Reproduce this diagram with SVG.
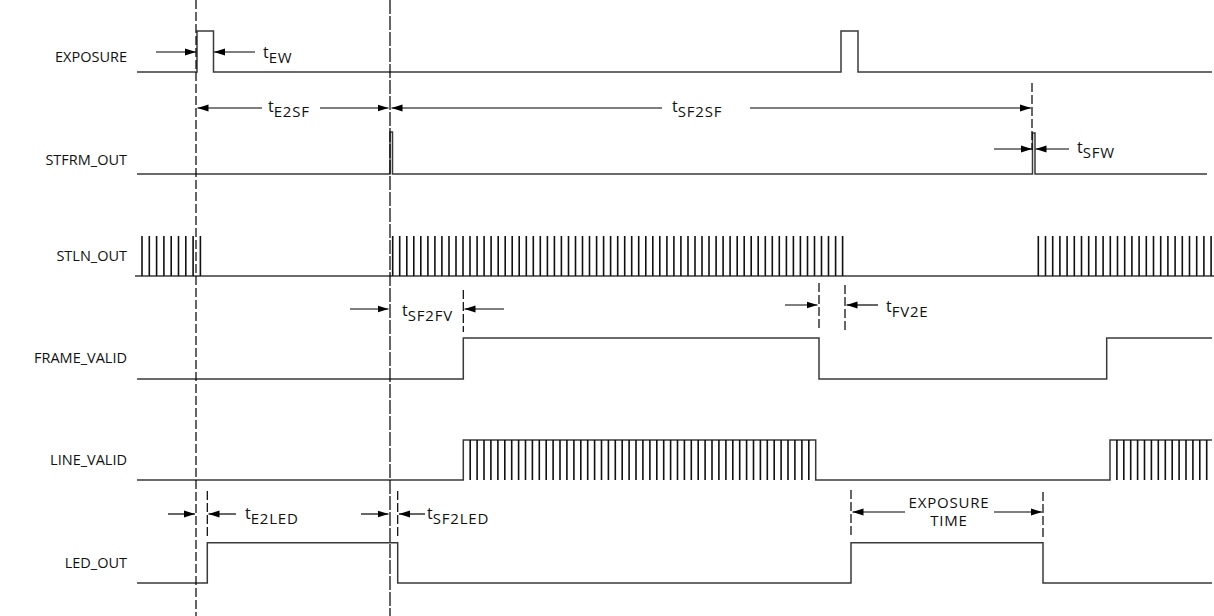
<svg xmlns="http://www.w3.org/2000/svg" width="1214" height="616" viewBox="0 0 1214 616">
<style>
.sig{fill:none;stroke:#3a3a3a;stroke-width:1.5}
.comb{fill:none;stroke:#111;stroke-width:1.6}
.arr{fill:none;stroke:#000;stroke-width:1.2;marker-end:url(#ah)}
.dash{fill:none;stroke:#000;stroke-width:1.2;stroke-dasharray:9,3}
.ldash{fill:none;stroke:#000;stroke-width:1.2;stroke-dasharray:14,2}
.lbl{font-family:"Open Sans","Noto Sans",sans-serif;font-size:14.5px;fill:#111;text-anchor:end}
.t{font-family:"Open Sans","Noto Sans",sans-serif;font-size:16px;fill:#111}
.sub{font-size:15px;letter-spacing:0.8px}
.et{font-family:"Open Sans","Noto Sans",sans-serif;font-size:15px;fill:#111;text-anchor:middle;letter-spacing:0.8px}
</style>
<defs>
<marker id="ah" markerUnits="userSpaceOnUse" markerWidth="12" markerHeight="8" refX="11" refY="4" orient="auto">
<path d="M0,0.5 L11,4 L0,7.5 z" fill="#000"/>
</marker>
</defs>
<g id="labels">
<text class="lbl" x="127" y="62">EXPOSURE</text>
<text class="lbl" x="127" y="165">STFRM_OUT</text>
<text class="lbl" x="127" y="261">STLN_OUT</text>
<text class="lbl" x="127" y="363">FRAME_VALID</text>
<text class="lbl" x="127" y="465">LINE_VALID</text>
<text class="lbl" x="127" y="568">LED_OUT</text>
</g>
<g id="exposure">
<path class="sig" d="M137,72 H197 V31 H213.5 V72 H841 V31 H858 V72 H1212"/>
</g>
<g id="stfrm_out">
<path class="sig" d="M137,174 H390 V132 H392.5 V174 H1032.5 V133 H1035 V174 H1207"/>
</g>
<g id="stln_out">
<path class="sig" d="M135,276 H1214"/>
<path class="comb" d="M142,276 V236 m7.3,40 V236 m7.3,40 V236 m7.3,40 V236 m7.3,40 V236 m7.3,40 V236 m7.3,40 V236 m7.3,40 V236 m7.3,40 V236"/>
<path class="comb" d="M392.7,276V236M399.7,276V236M406.8,276V236M413.8,276V236M420.8,276V236M427.9,276V236M434.9,276V236M441.9,276V236M449.0,276V236M456.0,276V236M463.0,276V236M470.0,276V236M477.1,276V236M484.1,276V236M491.1,276V236M498.2,276V236M505.2,276V236M512.2,276V236M519.2,276V236M526.3,276V236M533.3,276V236M540.3,276V236M547.4,276V236M554.4,276V236M561.4,276V236M568.5,276V236M575.5,276V236M582.5,276V236M589.5,276V236M596.6,276V236M603.6,276V236M610.6,276V236M617.7,276V236M624.7,276V236M631.7,276V236M638.7,276V236M645.8,276V236M652.8,276V236M659.8,276V236M666.9,276V236M673.9,276V236M680.9,276V236M688.0,276V236M695.0,276V236M702.0,276V236M709.0,276V236M716.1,276V236M723.1,276V236M730.1,276V236M737.2,276V236M744.2,276V236M751.2,276V236M758.2,276V236M765.3,276V236M772.3,276V236M779.3,276V236M786.4,276V236M793.4,276V236M800.4,276V236M807.5,276V236M814.5,276V236M821.5,276V236M828.5,276V236M835.6,276V236M842.6,276V236"/>
<path class="comb" d="M1038.3,276 V236 m7.2,40V236 m7.2,40V236 m7.2,40V236 m7.2,40V236 m7.2,40V236 m7.2,40V236 m7.2,40V236 m7.2,40V236 m7.2,40V236 m7.2,40V236 m7.2,40V236 m7.2,40V236 m7.2,40V236 m7.2,40V236 m7.2,40V236 m7.2,40V236 m7.2,40V236 m7.2,40V236 m7.2,40V236 m7.2,40V236 m7.2,40V236 m7.2,40V236 m7.2,40V236 m7.2,40V236"/>
</g>
<g id="frame_valid">
<path class="sig" d="M137,379 H463.3 V338 H819 V379 H1106.7 V338 H1212"/>
</g>
<g id="line_valid">
<path class="sig" d="M137,480 H463.3 V440 H815.7 V480 H1110 V440 H1212"/>
<path class="comb" d="M470.2,440V480M477.1,440V480M484.0,440V480M490.9,440V480M497.9,440V480M504.8,440V480M511.7,440V480M518.6,440V480M525.5,440V480M532.4,440V480M539.3,440V480M546.2,440V480M553.1,440V480M560.0,440V480M566.9,440V480M573.9,440V480M580.8,440V480M587.7,440V480M594.6,440V480M601.5,440V480M608.4,440V480M615.3,440V480M622.2,440V480M629.1,440V480M636.0,440V480M642.9,440V480M649.9,440V480M656.8,440V480M663.7,440V480M670.6,440V480M677.5,440V480M684.4,440V480M691.3,440V480M698.2,440V480M705.1,440V480M712.0,440V480M718.9,440V480M725.9,440V480M732.8,440V480M739.7,440V480M746.6,440V480M753.5,440V480M760.4,440V480M767.3,440V480M774.2,440V480M781.1,440V480M788.0,440V480M794.9,440V480M801.9,440V480M808.8,440V480"/>
<path class="comb" d="M1116.9,440V480M1123.8,440V480M1130.7,440V480M1137.6,440V480M1144.5,440V480M1151.4,440V480M1158.3,440V480M1165.3,440V480M1172.2,440V480M1179.1,440V480M1186.0,440V480M1192.9,440V480M1199.8,440V480M1206.7,440V480"/>
</g>
<g id="led_out">
<path class="sig" d="M137,583 H207.3 V542.7 H397.7 V583 H851 V542.7 H1043 V583 H1212"/>
</g>
<g id="connectors">
<line class="dash" x1="196" y1="0" x2="196" y2="616"/>
<line class="ldash" x1="390" y1="0" x2="390" y2="616"/>
<line class="dash" x1="1032" y1="83" x2="1032" y2="150"/>
<line class="dash" x1="463.3" y1="290" x2="463.3" y2="332"/>
<line class="dash" x1="819" y1="283" x2="819" y2="330"/>
<line class="dash" x1="845" y1="285" x2="845" y2="331"/>
<line class="dash" x1="207.3" y1="491" x2="207.3" y2="537"/>
<line class="dash" x1="397.7" y1="491" x2="397.7" y2="537"/>
<line class="dash" x1="851" y1="490" x2="851" y2="536"/>
<line class="dash" x1="1043" y1="492" x2="1043" y2="537"/>
<line class="arr" x1="156" y1="52" x2="196" y2="52"/>
<line class="arr" x1="255" y1="52" x2="214" y2="52"/>
<line class="arr" x1="262" y1="108" x2="197.5" y2="108"/>
<line class="arr" x1="320" y1="108" x2="388.5" y2="108"/>
<line class="arr" x1="662" y1="108" x2="391.5" y2="108"/>
<line class="arr" x1="750" y1="108" x2="1031" y2="108"/>
<line class="arr" x1="994" y1="149" x2="1032" y2="149"/>
<line class="arr" x1="1069" y1="149" x2="1035.5" y2="149"/>
<line class="arr" x1="350" y1="309" x2="388.5" y2="309"/>
<line class="arr" x1="504" y1="309" x2="464.5" y2="309"/>
<line class="arr" x1="785" y1="305" x2="817.5" y2="305"/>
<line class="arr" x1="878" y1="305" x2="846.5" y2="305"/>
<line class="arr" x1="168" y1="514" x2="195" y2="514"/>
<line class="arr" x1="236" y1="514" x2="208.5" y2="514"/>
<line class="arr" x1="361" y1="514" x2="388.5" y2="514"/>
<line class="arr" x1="425" y1="514" x2="399" y2="514"/>
<line class="arr" x1="905" y1="512" x2="852.5" y2="512"/>
<line class="arr" x1="994" y1="512" x2="1042" y2="512"/>
</g>
<g id="timing-labels">
<text class="t" x="263" y="58">t<tspan class="sub" dy="5">EW</tspan></text>
<text class="t" x="268" y="112">t<tspan class="sub" dy="5">E2SF</tspan></text>
<text class="t" x="672" y="112">t<tspan class="sub" dy="5">SF2SF</tspan></text>
<text class="t" x="1077" y="153">t<tspan class="sub" dy="5">SFW</tspan></text>
<text class="t" x="402" y="316">t<tspan class="sub" dy="5">SF2FV</tspan></text>
<text class="t" x="886" y="312">t<tspan class="sub" dy="5">FV2E</tspan></text>
<text class="t" x="245" y="519">t<tspan class="sub" dy="5">E2LED</tspan></text>
<text class="t" x="427" y="519">t<tspan class="sub" dy="5">SF2LED</tspan></text>
<text class="et" x="949" y="508">EXPOSURE</text>
<text class="et" x="949" y="526">TIME</text>
</g>
</svg>
